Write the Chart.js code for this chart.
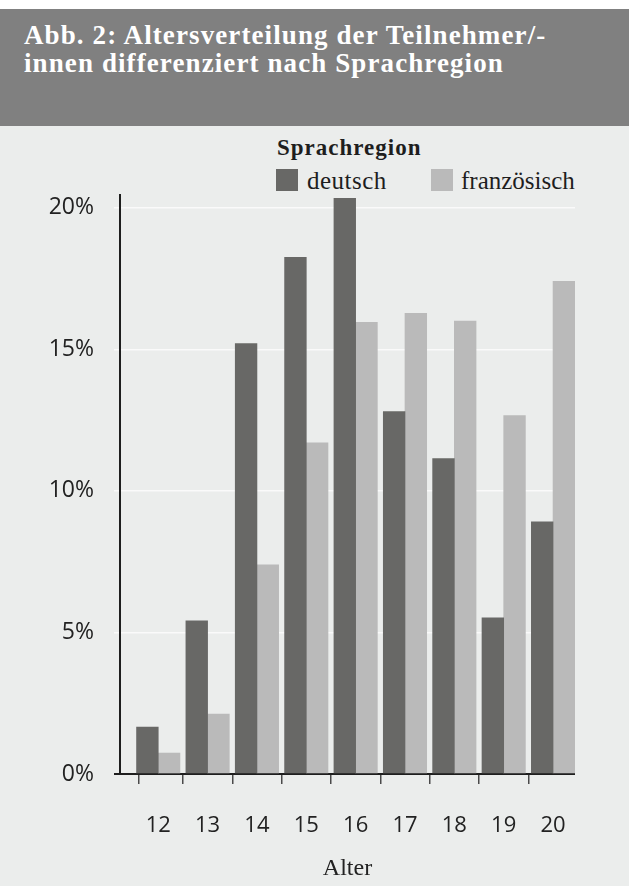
<!DOCTYPE html>
<html lang="de">
<head>
<meta charset="utf-8">
<script src="https://cdn.jsdelivr.net/npm/chart.js@4.4.1/dist/chart.umd.min.js"></script>
<style>
  html, body { margin: 0; padding: 0; }
  body { width: 629px; height: 886px; background: #ebedec; position: relative; overflow: hidden; }
  #band { position: absolute; left: 0; top: 0; width: 629px; height: 9px; background: #fff; }
  #header {
    position: absolute; left: 0; top: 9px; width: 629px; height: 117px;
    background: #808080; color: #fff; box-sizing: border-box;
    padding: 12px 0 0 24px;
    font: bold 27px/28px "Liberation Serif", serif; letter-spacing: 1.1px;
  }
  .leg { position: absolute; font-family: "Liberation Serif", serif; color: #1e1e1e; white-space: nowrap; }
  #legTitle { left: 277px; top: 135px; font-size: 23px; font-weight: bold; letter-spacing: 1px; line-height: 26px; }
  .box { position: absolute; top: 169px; width: 22px; height: 22px; }
  .lbl { top: 167px; font-size: 25px; line-height: 28px; }
  #wrap { position: absolute; left: 0; top: 126px; width: 629px; height: 760px; }
</style>
</head>
<body>
<div id="band"></div>
<div id="header">Abb. 2: Altersverteilung der Teilnehmer/-<br>innen differenziert nach Sprachregion</div>
<div id="legTitle" class="leg">Sprachregion</div>
<div class="box" style="left:276px;background:#686866"></div>
<div class="leg lbl" style="left:307px;letter-spacing:0.5px">deutsch</div>
<div class="box" style="left:431px;background:#bababa"></div>
<div class="leg lbl" style="left:461px">französisch</div>
<div id="wrap"><canvas id="chart" width="629" height="760"></canvas></div>
<script>
// Alter der Teilnehmer/-innen
const ages = [12, 13, 14, 15, 16, 17, 18, 19, 20]
// Anteile in Prozent
const deutsch = [1.66, 5.41, 15.2, 18.25, 20.33, 12.8, 11.14, 5.52, 8.91]
const franzoesisch = [0.74, 2.12, 7.39, 11.7, 15.95, 16.27, 16.0, 12.66, 17.4]
const yTicks = [0, 5, 10, 15, 20]
const seriesNames = ['deutsch', 'französisch']

const X_MIN = 11.225
const X_MAX = 20.445
const Y_MAX = 20.45

const ctx = document.getElementById('chart').getContext('2d')

new Chart(ctx, {
  type: 'bar',
  data: {
    labels: ages,
    datasets: [
      {
        label: seriesNames[0],
        data: deutsch,
        backgroundColor: '#686866',
        barThickness: 21.7,
      },
      {
        label: seriesNames[1],
        data: franzoesisch,
        backgroundColor: '#bababa',
        barThickness: 21.7,
      },
    ],
  },
  options: {
    responsive: false,
    animation: false,
    layout: { padding: { top: 69, right: 54, bottom: 0, left: 0 } },
    plugins: {
      legend: { display: false },
      tooltip: { enabled: false },
    },
    scales: {
      x: {
        type: 'linear',
        min: X_MIN,
        max: X_MAX,
        offset: false,
        afterBuildTicks: (scale) => {
          scale.ticks = [X_MIN, ...ages].map(v => ({ value: v }))
        },
        afterFit: (scale) => { scale.height = 112 },
        grid: {
          drawOnChartArea: false,
          drawTicks: true,
          tickLength: 10,
          color: (c) => (c.index === 0 ? '#1e1e1e' : '#4a4a4a'),
          lineWidth: (c) => (c.index === 0 ? 2 : 1.5),
        },
        border: { display: false },
        ticks: {
          autoSkip: false,
          maxRotation: 0,
          padding: 29,
          color: '#222',
          font: { family: 'Open Sans', size: 22 },
          callback: (v) => (ages.includes(v) ? String(v) : ''),
        },
        title: {
          display: true,
          text: 'Alter',
          color: '#222',
          padding: { top: 0, bottom: 3 },
          font: { family: 'Liberation Serif', size: 24 },
        },
      },
      y: {
        min: 0,
        max: Y_MAX,
        afterBuildTicks: (scale) => {
          scale.ticks = yTicks.map(v => ({ value: v }))
        },
        afterFit: (scale) => { scale.width = 120 },
        grid: {
          drawTicks: true,
          tickLength: 6,
          color: (c) => (c.tick && c.tick.value === 0 ? '#1e1e1e' : '#fafafa'),
          lineWidth: (c) => (c.tick && c.tick.value === 0 ? 2 : 1.5),
        },
        border: { display: true, color: '#1e1e1e', width: 2 },
        ticks: {
          padding: 20,
          color: '#222',
          font: { family: 'Open Sans', size: 23 },
          callback: (v) => v + '%',
        },
      },
    },
  },
})
</script>
</body>
</html>
